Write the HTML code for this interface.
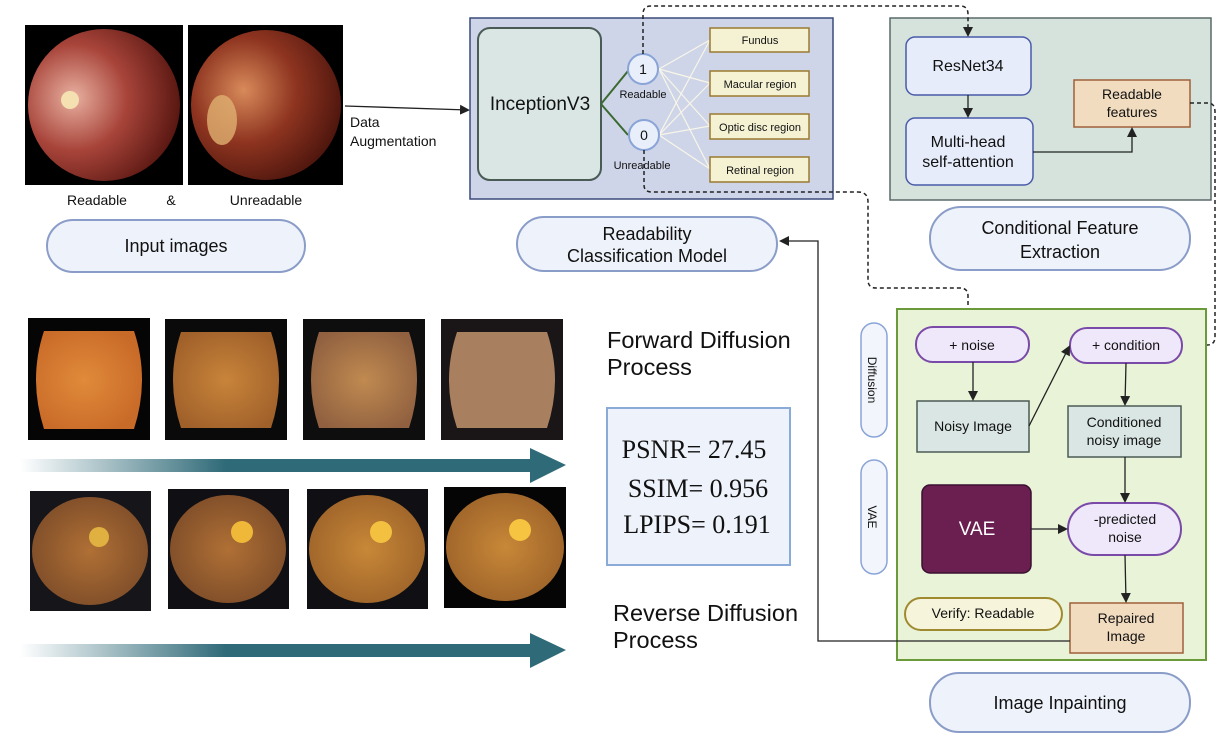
<!DOCTYPE html>
<html><head><meta charset="utf-8"><style>
html,body{margin:0;padding:0;background:#fff}
svg{display:block}
text{font-family:"Liberation Sans",sans-serif;fill:#111}
</style></head><body>
<svg width="1229" height="742" viewBox="0 0 1229 742" xmlns="http://www.w3.org/2000/svg">
<defs>
<marker id="ah" markerWidth="10" markerHeight="10" refX="8" refY="5" orient="auto" markerUnits="userSpaceOnUse"><path d="M0,0 L10,5 L0,10 z" fill="#222"/></marker>
<radialGradient id="f1" cx="0.3" cy="0.45" r="0.7"><stop offset="0" stop-color="#e8b0a0"/><stop offset="0.5" stop-color="#a8443a"/><stop offset="1" stop-color="#5a1812"/></radialGradient>
<radialGradient id="f2" cx="0.35" cy="0.4" r="0.7"><stop offset="0" stop-color="#d88a5a"/><stop offset="0.5" stop-color="#8e3420"/><stop offset="1" stop-color="#4a140c"/></radialGradient>
<radialGradient id="o1" cx="0.45" cy="0.5" r="0.6"><stop offset="0" stop-color="#e08a3a"/><stop offset="1" stop-color="#c86a28"/></radialGradient>
<radialGradient id="o2" cx="0.5" cy="0.5" r="0.6"><stop offset="0" stop-color="#c8843a"/><stop offset="1" stop-color="#a0602a"/></radialGradient>
<radialGradient id="o3" cx="0.5" cy="0.5" r="0.6"><stop offset="0" stop-color="#c08a50"/><stop offset="1" stop-color="#906040"/></radialGradient>
<radialGradient id="r1" cx="0.5" cy="0.5" r="0.6"><stop offset="0" stop-color="#b07035"/><stop offset="1" stop-color="#7a4a28"/></radialGradient>
<radialGradient id="r2" cx="0.5" cy="0.5" r="0.6"><stop offset="0" stop-color="#c88838"/><stop offset="1" stop-color="#9a6028"/></radialGradient>
<linearGradient id="ag" x1="0" x2="1"><stop offset="0" stop-color="#2f6a78" stop-opacity="0"/><stop offset="0.4" stop-color="#2f6a78"/><stop offset="1" stop-color="#2f6a78"/></linearGradient>
</defs>

<rect x="25" y="25" width="158" height="160" fill="#000"/>
<circle cx="104" cy="105" r="76" fill="url(#f1)"/>
<circle cx="70" cy="100" r="9" fill="#f4e0b0"/>
<rect x="188" y="25" width="155" height="160" fill="#000"/>
<circle cx="266" cy="105" r="75" fill="url(#f2)"/>
<ellipse cx="222" cy="120" rx="15" ry="25" fill="#e0b070" opacity="0.8"/>
<text x="97" y="205" font-size="14" text-anchor="middle">Readable</text>
<text x="171" y="205" font-size="14" text-anchor="middle">&amp;</text>
<text x="266" y="205" font-size="14" text-anchor="middle">Unreadable</text>
<rect x="47" y="220" width="258" height="52" rx="26" fill="#eef2fa" stroke="#8a9cc8" stroke-width="2"/>
<text x="176" y="252" font-size="18" text-anchor="middle">Input images</text>

<line x1="345" y1="106" x2="468" y2="110" stroke="#222" stroke-width="1.3" marker-end="url(#ah)"/>
<text x="350" y="127" font-size="14">Data</text>
<text x="350" y="146" font-size="14">Augmentation</text>

<rect x="470" y="18" width="363" height="181" fill="#cfd5e8" stroke="#3a4a7a" stroke-width="1.5"/>
<rect x="478" y="28" width="123" height="152" rx="12" fill="#d9e6e3" stroke="#4a5a55" stroke-width="2"/>
<text x="540" y="110" font-size="19" text-anchor="middle">InceptionV3</text>
<line x1="601" y1="104" x2="628" y2="71" stroke="#3a6a30" stroke-width="2"/>
<line x1="601" y1="104" x2="628" y2="135" stroke="#3a6a30" stroke-width="2"/>
<g stroke="#f8f6e8" stroke-width="1.2">
<line x1="659" y1="69" x2="710" y2="40"/><line x1="659" y1="69" x2="710" y2="83"/><line x1="659" y1="69" x2="710" y2="126"/><line x1="659" y1="69" x2="710" y2="169"/>
<line x1="659" y1="135" x2="710" y2="40"/><line x1="659" y1="135" x2="710" y2="83"/><line x1="659" y1="135" x2="710" y2="126"/><line x1="659" y1="135" x2="710" y2="169"/>
</g>
<circle cx="643" cy="69" r="15" fill="#e8eefa" stroke="#8aa4d8" stroke-width="2"/>
<text x="643" y="74" font-size="14" text-anchor="middle">1</text>
<circle cx="644" cy="135" r="15" fill="#e8eefa" stroke="#8aa4d8" stroke-width="2"/>
<text x="644" y="140" font-size="14" text-anchor="middle">0</text>
<text x="643" y="98" font-size="11" text-anchor="middle">Readable</text>
<text x="642" y="169" font-size="11" text-anchor="middle">Unreadable</text>
<g fill="#f5f2d4" stroke="#9a7a30" stroke-width="1.5">
<rect x="710" y="28" width="99" height="24"/><rect x="710" y="71" width="99" height="25"/><rect x="710" y="114" width="99" height="25"/><rect x="710" y="157" width="99" height="25"/>
</g>
<g font-size="11" text-anchor="middle">
<text x="760" y="44">Fundus</text><text x="760" y="88">Macular region</text><text x="760" y="131">Optic disc region</text><text x="760" y="174">Retinal region</text>
</g>
<rect x="517" y="217" width="260" height="54" rx="27" fill="#eef2fa" stroke="#8a9cc8" stroke-width="2"/>
<text x="647" y="240" font-size="18" text-anchor="middle">Readability</text>
<text x="647" y="262" font-size="18" text-anchor="middle">Classification Model</text>

<rect x="890" y="18" width="321" height="182" fill="#d5e3dc" stroke="#5a6a6a" stroke-width="1.5"/>
<rect x="906" y="37" width="125" height="58" rx="9" fill="#e6ecfa" stroke="#4a5aaa" stroke-width="1.5"/>
<text x="968" y="71" font-size="16" text-anchor="middle">ResNet34</text>
<rect x="906" y="118" width="127" height="67" rx="9" fill="#e6ecfa" stroke="#4a5aaa" stroke-width="1.5"/>
<text x="968" y="147" font-size="16" text-anchor="middle">Multi-head</text>
<text x="968" y="167" font-size="16" text-anchor="middle">self-attention</text>
<line x1="968" y1="95" x2="968" y2="116" stroke="#222" stroke-width="1.3" marker-end="url(#ah)"/>
<rect x="1074" y="80" width="116" height="47" fill="#f2dcc0" stroke="#a0603a" stroke-width="1.5"/>
<text x="1132" y="99" font-size="14" text-anchor="middle">Readable</text>
<text x="1132" y="117" font-size="14" text-anchor="middle">features</text>
<polyline points="1033,152 1132,152 1132,129" fill="none" stroke="#222" stroke-width="1.3" marker-end="url(#ah)"/>
<rect x="930" y="207" width="260" height="63" rx="31" fill="#eef2fa" stroke="#8a9cc8" stroke-width="2"/>
<text x="1060" y="234" font-size="18" text-anchor="middle">Conditional Feature</text>
<text x="1060" y="258" font-size="18" text-anchor="middle">Extraction</text>

<g fill="none" stroke="#222" stroke-width="1.5" stroke-dasharray="4,3">
<path d="M643,54 L643,14 Q643,6 651,6 L960,6 Q968,6 968,14 L968,35" marker-end="url(#ah)"/>
<path d="M644,150 L644,185 Q644,192 652,192 L858,192 Q868,192 868,202 L868,280 Q868,288 876,288 L960,288 Q968,288 968,296 L968,325" marker-end="url(#ah)"/>
<path d="M1190,103 L1208,103 Q1215,103 1215,112 L1215,337 Q1215,345 1207,345 L1186,345" marker-end="url(#ah)"/>
</g>

<rect x="897" y="309" width="309" height="351" fill="#e9f3d8" stroke="#6a9a3a" stroke-width="2"/>
<rect x="861" y="323" width="26" height="114" rx="13" fill="#f2f5fb" stroke="#8aa4d8" stroke-width="1.5"/>
<text transform="translate(868,380) rotate(90)" font-size="12" text-anchor="middle">Diffusion</text>
<rect x="861" y="460" width="26" height="114" rx="13" fill="#f2f5fb" stroke="#8aa4d8" stroke-width="1.5"/>
<text transform="translate(868,517) rotate(90)" font-size="12" text-anchor="middle">VAE</text>
<rect x="916" y="327" width="113" height="35" rx="17" fill="#efe8fa" stroke="#7a4aa8" stroke-width="2"/>
<text x="972" y="350" font-size="14" text-anchor="middle">+ noise</text>
<rect x="1070" y="328" width="112" height="35" rx="17" fill="#efe8fa" stroke="#7a4aa8" stroke-width="2"/>
<text x="1126" y="350" font-size="14" text-anchor="middle">+ condition</text>
<rect x="917" y="401" width="112" height="51" fill="#d9e6e3" stroke="#4a5a55" stroke-width="1.5"/>
<text x="973" y="431" font-size="14" text-anchor="middle">Noisy Image</text>
<rect x="1068" y="406" width="113" height="51" fill="#d9e6e3" stroke="#4a5a55" stroke-width="1.5"/>
<text x="1124" y="427" font-size="14" text-anchor="middle">Conditioned</text>
<text x="1124" y="445" font-size="14" text-anchor="middle">noisy image</text>
<rect x="922" y="485" width="109" height="88" rx="8" fill="#6b1f50" stroke="#3a1030" stroke-width="1.5"/>
<text x="977" y="535" font-size="19" text-anchor="middle" style="fill:#fff">VAE</text>
<rect x="1068" y="503" width="113" height="52" rx="26" fill="#efe8fa" stroke="#7a4aa8" stroke-width="2"/>
<text x="1125" y="524" font-size="14" text-anchor="middle">-predicted</text>
<text x="1125" y="542" font-size="14" text-anchor="middle">noise</text>
<rect x="905" y="598" width="157" height="32" rx="16" fill="#f6f4da" stroke="#a08a30" stroke-width="2"/>
<text x="983" y="618" font-size="14" text-anchor="middle">Verify: Readable</text>
<rect x="1070" y="603" width="113" height="50" fill="#f2dcc0" stroke="#a0603a" stroke-width="1.5"/>
<text x="1126" y="623" font-size="14" text-anchor="middle">Repaired</text>
<text x="1126" y="641" font-size="14" text-anchor="middle">Image</text>
<g stroke="#222" stroke-width="1.3" fill="none">
<line x1="973" y1="362" x2="973" y2="399" marker-end="url(#ah)"/>
<line x1="1029" y1="426" x2="1069" y2="347" marker-end="url(#ah)"/>
<line x1="1126" y1="363" x2="1125" y2="404" marker-end="url(#ah)"/>
<line x1="1125" y1="457" x2="1125" y2="501" marker-end="url(#ah)"/>
<line x1="1031" y1="529" x2="1066" y2="529" marker-end="url(#ah)"/>
<line x1="1125" y1="555" x2="1126" y2="601" marker-end="url(#ah)"/>
<polyline points="1070,641 818,641 818,241 781,241" marker-end="url(#ah)"/>
</g>
<rect x="930" y="673" width="260" height="59" rx="29" fill="#eef2fa" stroke="#8a9cc8" stroke-width="2"/>
<text x="1060" y="709" font-size="18" text-anchor="middle">Image Inpainting</text>

<g>
<rect x="28" y="318" width="122" height="122" fill="#050505"/>
<path d="M44,331 L134,331 Q150,379 134,429 L44,429 Q28,379 44,331z" fill="url(#o1)"/>
<rect x="165" y="319" width="122" height="121" fill="#0a0a0a"/>
<path d="M181,332 L271,332 Q287,380 271,428 L181,428 Q165,380 181,332z" fill="url(#o2)"/>
<rect x="303" y="319" width="122" height="121" fill="#0e0e0e"/>
<path d="M319,332 L409,332 Q425,380 409,428 L319,428 Q303,380 319,332z" fill="url(#o3)"/>
<rect x="441" y="319" width="122" height="121" fill="#1a1618"/>
<path d="M457,332 L547,332 Q563,380 547,428 L457,428 Q441,380 457,332z" fill="#a88060"/>
</g>
<rect x="20" y="459" width="515" height="13" fill="url(#ag)"/>
<polygon points="530,448 566,465 530,483" fill="#2f6a78"/>
<g>
<rect x="30" y="491" width="121" height="120" fill="#15151a"/>
<ellipse cx="90" cy="551" rx="58" ry="54" fill="url(#r1)"/>
<circle cx="99" cy="537" r="10" fill="#e0b040"/>
<rect x="168" y="489" width="121" height="120" fill="#101014"/>
<ellipse cx="228" cy="549" rx="58" ry="54" fill="url(#r1)"/>
<circle cx="242" cy="532" r="11" fill="#f0b838"/>
<rect x="307" y="489" width="121" height="120" fill="#101014"/>
<ellipse cx="367" cy="549" rx="58" ry="54" fill="url(#r2)"/>
<circle cx="381" cy="532" r="11" fill="#f4c040"/>
<rect x="444" y="487" width="122" height="121" fill="#050505"/>
<ellipse cx="505" cy="547" rx="59" ry="54" fill="url(#r2)"/>
<circle cx="520" cy="530" r="11" fill="#f6c440"/>
</g>
<rect x="20" y="644" width="515" height="13" fill="url(#ag)"/>
<polygon points="530,633 566,650 530,668" fill="#2f6a78"/>

<text x="607" y="348" font-size="23.5">Forward Diffusion</text>
<text x="607" y="375" font-size="23.5">Process</text>
<rect x="607" y="408" width="183" height="157" fill="#eef3fb" stroke="#8aaad8" stroke-width="2"/>
<g font-size="26" text-anchor="middle">
<text x="694" y="458" style="font-family:'Liberation Serif',serif">PSNR= 27.45</text>
<text x="698" y="497" style="font-family:'Liberation Serif',serif">SSIM= 0.956</text>
<text x="697" y="533" style="font-family:'Liberation Serif',serif">LPIPS= 0.191</text>
</g>
<text x="613" y="621" font-size="23.5">Reverse Diffusion</text>
<text x="613" y="648" font-size="23.5">Process</text>
</svg>
</body></html>
